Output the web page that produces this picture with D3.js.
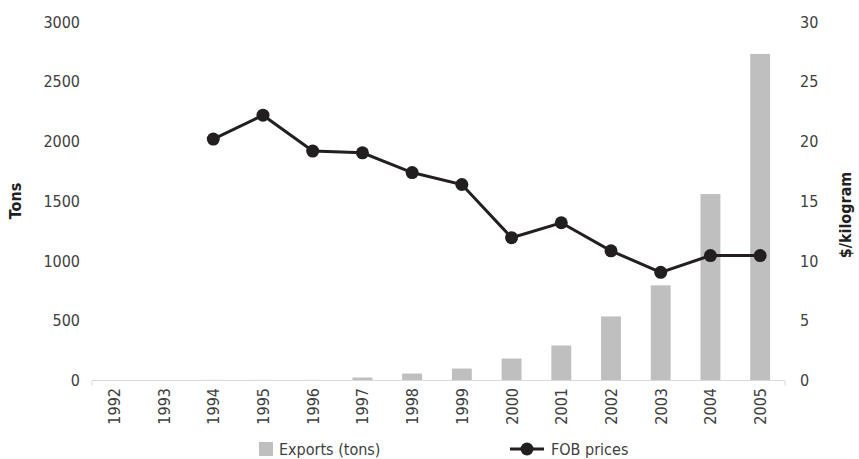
<!DOCTYPE html>
<html><head><meta charset="utf-8">
<script src="https://cdn.jsdelivr.net/npm/d3@7"></script>
<style>
body{margin:0;background:#fff;}
text{font-family:"DejaVu Sans Condensed","DejaVu Sans",sans-serif;font-stretch:condensed;}
</style></head><body>
<svg id="chart" width="859" height="459"></svg>
<script>
const years = ["1992","1993","1994","1995","1996","1997","1998","1999","2000","2001","2002","2003","2004","2005"];
const exportsTons = [0, 0, 5, 5, 5, 25, 58, 100, 184, 293, 536, 796, 1560, 2732];
const fobPrices = [null, null, 20.2, 22.2, 19.2, 19.05, 17.4, 16.4, 11.95, 13.2, 10.85, 9.05, 10.45, 10.45];
const leftTicks = [0, 500, 1000, 1500, 2000, 2500, 3000];
const rightTicks = [0, 5, 10, 15, 20, 25, 30];

const svg = d3.select("#chart");
const x = d3.scaleBand().domain(years).range([89, 785]).paddingInner(0.6).paddingOuter(0.3);
const yL = d3.scaleLinear().domain([0, 3000]).range([380.5, 22]);
const yR = d3.scaleLinear().domain([0, 30]).range([380.5, 22]);
const txt = "#404040";
const FS = "16px";

svg.append("g").selectAll("rect").data(years).join("rect")
  .attr("x", d => x(d)).attr("width", x.bandwidth())
  .attr("y", (d,i) => yL(exportsTons[i]))
  .attr("height", (d,i) => yL(0) - yL(exportsTons[i]))
  .attr("fill", "#bfbfbf");

const axisY = 380.5;
svg.append("path").attr("d", `M92,${axisY+5}V${axisY}H785V${axisY+5}`)
  .attr("fill","none").attr("stroke","#d9d9d9").attr("stroke-width",1);

const gL = svg.append("g").attr("transform","translate(80,0)")
  .call(d3.axisLeft(yL).tickValues(leftTicks).tickFormat(d3.format("d")).tickSize(0).tickPadding(0));
gL.select(".domain").remove();
gL.selectAll("text").attr("fill",txt).style("font-size",FS).style("font-family",null);

const gR = svg.append("g").attr("transform","translate(800,0)")
  .call(d3.axisRight(yR).tickValues(rightTicks).tickFormat(d3.format("d")).tickSize(0).tickPadding(0));
gR.select(".domain").remove();
gR.selectAll("text").attr("fill",txt).style("font-size",FS).style("font-family",null);
svg.selectAll("g").attr("font-family",null).attr("font-size",null);

svg.append("g").selectAll("text").data(years).join("text")
  .attr("transform", d => `translate(${x(d)+x.bandwidth()/2+6},388) rotate(-90)`)
  .attr("text-anchor","end").attr("fill",txt).style("font-size",FS)
  .text(d => d);

const pts = years.map((d,i) => ({y:d, v:fobPrices[i]})).filter(p => p.v != null);
const line = d3.line().x(p => x(p.y)+x.bandwidth()/2).y(p => yR(p.v));
svg.append("path").datum(pts).attr("d", line).attr("fill","none")
  .attr("stroke","#231f20").attr("stroke-width",3);
svg.append("g").selectAll("circle").data(pts).join("circle")
  .attr("cx", p => x(p.y)+x.bandwidth()/2).attr("cy", p => yR(p.v))
  .attr("r", 6.5).attr("fill","#231f20");

svg.append("text").attr("transform","translate(21,201) rotate(-90)")
  .attr("text-anchor","middle").attr("fill","#231f20").style("font-size",FS).style("font-weight","bold").text("Tons");
svg.append("text").attr("transform","translate(851,215) rotate(-90)")
  .attr("text-anchor","middle").attr("fill","#231f20").style("font-size",FS).style("font-weight","bold").text("$/kilogram");

svg.append("rect").attr("x",259).attr("y",442).attr("width",14).attr("height",14).attr("fill","#bfbfbf");
svg.append("text").attr("x",279).attr("y",455).attr("fill",txt).style("font-size",FS).text("Exports (tons)");
svg.append("line").attr("x1",510).attr("x2",544).attr("y1",449).attr("y2",449).attr("stroke","#231f20").attr("stroke-width",3);
svg.append("circle").attr("cx",527).attr("cy",449).attr("r",6.5).attr("fill","#231f20");
svg.append("text").attr("x",551).attr("y",455).attr("fill",txt).style("font-size",FS).text("FOB prices");
</script>
</body></html>
